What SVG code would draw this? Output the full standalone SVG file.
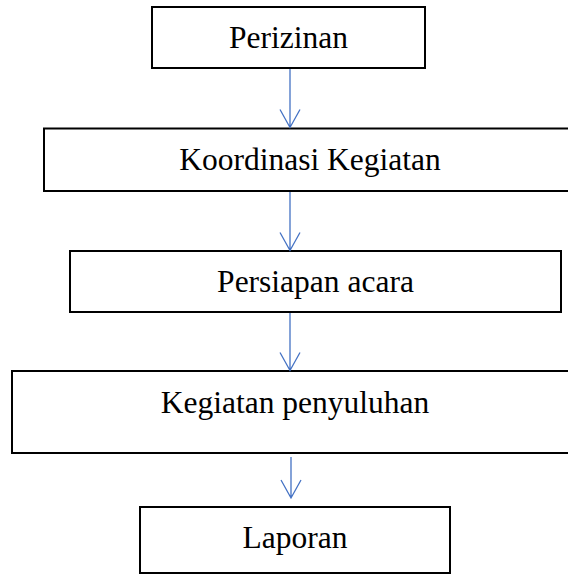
<svg xmlns="http://www.w3.org/2000/svg" width="568" height="574" viewBox="0 0 568 574">
<style>
.box{fill:#fff;stroke:#000;stroke-width:2}
.lbl{font-family:"Liberation Serif","Times New Roman",serif;font-size:31.5px;fill:#000;text-anchor:middle}
.conn{stroke:#4472C4;stroke-width:1.3;fill:none}
</style>
<rect width="568" height="574" fill="#fff"/>
<g id="n1"><rect class="box" x="152" y="7" width="273" height="61"/><text class="lbl" x="288.5" y="48">Perizinan</text></g>
<g id="n2"><rect class="box" x="44" y="128.5" width="533" height="62.5"/><text class="lbl" x="310" y="170">Koordinasi Kegiatan</text></g>
<g id="n3"><rect class="box" x="70" y="251" width="491" height="61"/><text class="lbl" x="315.5" y="292">Persiapan acara</text></g>
<g id="n4"><rect class="box" x="12" y="371" width="566" height="82"/><text class="lbl" x="295" y="413">Kegiatan penyuluhan</text></g>
<g id="n5"><rect class="box" x="140" y="507" width="310" height="66"/><text class="lbl" x="295" y="548">Laporan</text></g>
<g id="connectors">
<path class="conn" d="M290,69 V127.5 M280,109.5 L290,127.5 L300,109.5"/>
<path class="conn" d="M290,192 V250.5 M280,232.5 L290,250.5 L300,232.5"/>
<path class="conn" d="M290,313 V370.5 M280,352.5 L290,370.5 L300,352.5"/>
<path class="conn" d="M291,457 V498 M281,480 L291,498 L301,480"/>
</g>
</svg>
